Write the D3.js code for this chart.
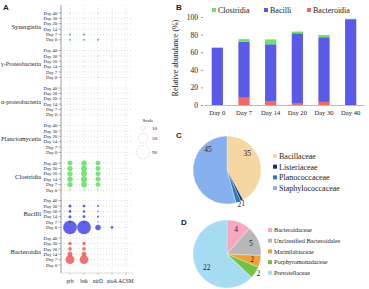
<!DOCTYPE html>
<html>
<head>
<meta charset="utf-8">
<script src="https://cdn.jsdelivr.net/npm/d3@7"></script>
<style>
  body { margin: 0; background: #fff; }
  svg text { font-family: "Liberation Serif", "Times New Roman", serif; fill: #222; }
  .panel-label { font-family: "Liberation Sans", Arial, sans-serif; font-weight: bold; font-size: 8px; }
</style>
</head>
<body>
<div id="chart"></div>
<script>
// ---------- data: panel A (bubble matrix) ----------
const classNames = ["Synergistia", "\u03b3-Proteobacteria", "\u03b1-proteobacteria", "Planctomycetia", "Clostridia", "Bacilli", "Bacteroidia"];
const classColors = ["#3fa596", "#d9d25a", "#b5b5b5", "#a8a8c8", "#5fe05f", "#4646ea", "#ef5a5a"];
const dayRows = ["Day 40", "Day 30", "Day 20", "Day 14", "Day 7", "Day 0"];
const genes = ["prb", "bsk", "nirD", "atoA", "ACSM"];

// rows: Day 40 .. Day 0, columns: prb, bsk, nirD, atoA, ACSM
const synergistiaVals = [[0.5, 0, 0.5, 0, 0], [0, 0, 0, 0, 0], [0, 0, 0, 0, 0], [0, 0, 0, 0, 0], [2, 2, 0, 0, 0], [1.5, 1.5, 2, 0, 0]];
const gammaVals = [[0, 0, 0, 0, 0], [0, 0, 1.5, 1.5, 0], [0, 0, 0, 0, 0], [0, 0, 0, 0, 0], [0, 0, 0, 0, 0], [0, 0, 1.5, 1, 0]];
const alphaVals = [[0, 0, 0, 0, 0], [0, 0, 0.5, 0, 0], [0, 0, 0, 0, 0], [0.5, 0, 0, 0, 0], [0, 0, 0, 0, 0], [0, 0, 0, 0, 0]];
const planctoVals = [[0, 0, 0, 0, 0], [0, 0, 0, 0, 0], [0, 0, 0, 0, 0], [0.5, 0, 0, 0, 0], [0, 0, 0, 0, 0], [0, 0, 0, 0, 0]];
const clostridiaVals = [[13, 16, 12, 0, 0], [14, 18, 13, 0, 0], [14, 19, 13, 0, 0], [15, 20, 13, 0, 0], [14, 18, 12, 0, 0], [1, 1, 1, 0, 0]];
const bacilliVals = [[0, 0, 0, 0, 0], [5, 4, 2, 0, 0], [4, 3, 1, 0, 0], [5, 4, 2, 0, 0], [4, 3, 1, 0, 0], [100, 100, 16, 4, 0]];
const bacteroidiaVals = [[0, 0, 0, 0, 0], [6, 6, 0, 0, 0], [7, 7, 0, 0, 0], [13, 13, 0, 0, 0], [42, 40, 0, 0, 0], [0, 0, 0, 0, 0]];
const classVals = [synergistiaVals, gammaVals, alphaVals, planctoVals, clostridiaVals, bacilliVals, bacteroidiaVals];
const scaleLegend = [10, 50, 90];

// ---------- data: panel B (stacked bars) ----------
const bDays = ["Day 0", "Day 7", "Day 14", "Day 20", "Day 30", "Day 40"];
const bSeries = ["Clostridia", "Bacilli", "Bacteroidia"];
const bColors = ["#6be36b", "#5a5ae8", "#f06868"];
const clostridiaAb = [0.5, 3, 5.5, 2, 2.5, 0.5];
const bacilliAb = [65, 63.5, 64.5, 80, 73.5, 97.5];
const bacteroidiaAb = [0, 8.3, 4.5, 1.5, 3.5, 0];
const bTicks = [0, 20, 40, 60, 80, 100];

// ---------- data: panels C, D (pies) ----------
const cNames = ["Bacillaceae", "Listeriaceae", "Planococcaceae", "Staphylococcaceae"];
const cValues = [35, 1, 2, 45];
const cColors = ["#f6d7a2", "#1b2f5c", "#2a7bbd", "#86b0ee"];
const dNames = ["Bacteroidaceae", "Unclassified Bacteroidales", "Marinilabiaceae", "Porphyromonadaceae", "Prevotellaceae"];
const dValues = [4, 5, 2, 2, 22];
const dColors = ["#f6a9c0", "#b8b8b8", "#f0a23a", "#72c244", "#a6dcf2"];

const W = 369, H = 289;
const svg = d3.select("#chart").append("svg")
    .attr("width", W)
    .attr("height", H);

// ================= Panel A =================
svg.append("text").attr("class", "panel-label").attr("x", 3).attr("y", 10).text("A");

const slotsPerGroup = 7;
let rowIndex = (g, k) => g * slotsPerGroup + k;
const yA = d3.scaleLinear().domain([0, 47]).range([13, 265]);
const xA = d3.scalePoint().domain(genes).range([70, 126]);
const rA = d3.scaleSqrt().domain([0, 90]).range([0, 6.5]);
const aLeft = 61, aRight = 133, aTop = 5, aBottom = 273;

let gridA = svg.append("g").attr("class", "grid-a");
// horizontal dotted lines at each row
classNames.forEach((c, g) => {
    dayRows.forEach((d, k) => {
        gridA.append("line")
            .attr("x1", aLeft).attr("x2", aRight)
            .attr("y1", yA(rowIndex(g, k))).attr("y2", yA(rowIndex(g, k)))
            .attr("stroke", "#bdbdbd").attr("stroke-width", 0.5)
            .attr("stroke-dasharray", "1,2");
    });
});
// vertical dotted lines
genes.forEach(gn => {
    gridA.append("line")
        .attr("x1", xA(gn)).attr("x2", xA(gn))
        .attr("y1", aTop).attr("y2", aBottom)
        .attr("stroke", "#bdbdbd").attr("stroke-width", 0.5)
        .attr("stroke-dasharray", "1,2");
});

// left axis line + ticks
svg.append("line")
    .attr("x1", aLeft).attr("x2", aLeft).attr("y1", aTop).attr("y2", aBottom)
    .attr("stroke", "#777").attr("stroke-width", 0.7);
svg.append("line")
    .attr("x1", aLeft).attr("x2", aRight).attr("y1", aBottom).attr("y2", aBottom)
    .attr("stroke", "#bbb").attr("stroke-width", 0.5);

let axisA = svg.append("g");
classNames.forEach((c, g) => {
    dayRows.forEach((d, k) => {
        let y = yA(rowIndex(g, k));
        axisA.append("line")
            .attr("x1", aLeft - 3).attr("x2", aLeft).attr("y1", y).attr("y2", y)
            .attr("stroke", "#777").attr("stroke-width", 0.5);
        axisA.append("text")
            .attr("x", aLeft - 4).attr("y", y)
            .attr("dy", "0.35em")
            .attr("text-anchor", "end")
            .style("font-size", "4.6px")
            .text(d);
    });
    let t = axisA.append("text")
        .attr("x", 41)
        .attr("y", yA(rowIndex(g, 2.5)))
        .attr("dy", "0.35em")
        .attr("text-anchor", "end")
        .style("font-size", "6.6px")
        .text(c);
    // keep long class names inside the left edge
    if (t.node().getComputedTextLength() > 40) {
        t.attr("textLength", 40).attr("lengthAdjust", "spacingAndGlyphs");
    }
});

genes.forEach(gn => {
    axisA.append("line")
        .attr("x1", xA(gn)).attr("x2", xA(gn)).attr("y1", aBottom).attr("y2", aBottom + 2)
        .attr("stroke", "#999").attr("stroke-width", 0.5);
    axisA.append("text")
        .attr("x", xA(gn)).attr("y", 283)
        .attr("text-anchor", "middle")
        .style("font-size", "5.4px")
        .text(gn);
});

// bubbles
let bubbleData = [];
classVals.forEach((mat, g) => {
    mat.forEach((row, k) => {
        row.forEach((v, j) => {
            if (v > 0) bubbleData.push({ g: g, k: k, gene: genes[j], value: v });
        });
    });
});
svg.append("g").selectAll("circle.bubble")
    .data(bubbleData)
    .enter()
    .append("circle")
    .attr("class", "bubble")
    .attr("cx", d => xA(d.gene))
    .attr("cy", d => yA(rowIndex(d.g, d.k)))
    .attr("r", d => rA(d.value))
    .style("fill", d => classColors[d.g])
    .style("fill-opacity", 0.85);

// scale legend
let sLeg = svg.append("g");
sLeg.append("text").attr("x", 148).attr("y", 122).attr("text-anchor", "middle")
    .style("font-size", "5px").text("Scale");
const sLegY = [128, 138, 152];
scaleLegend.forEach((v, i) => {
    sLeg.append("circle")
        .attr("cx", 143).attr("cy", sLegY[i]).attr("r", rA(v))
        .attr("fill", "none").attr("stroke", "#aaa").attr("stroke-width", 0.5)
        .attr("stroke-dasharray", "1,1");
    sLeg.append("text").attr("x", 152).attr("y", sLegY[i]).attr("dy", "0.35em")
        .style("font-size", "5px").text(v);
});

// ================= Panel B =================
svg.append("text").attr("class", "panel-label").attr("x", 176).attr("y", 10).text("B");

const xB = d3.scaleBand().domain(bDays).range([204, 364]).paddingInner(0.58).paddingOuter(0.29);
const yB = d3.scaleLinear().domain([0, 100]).range([105, 17]);

let stackRows = bDays.map((d, i) => ({
    day: d,
    Bacteroidia: bacteroidiaAb[i],
    Bacilli: bacilliAb[i],
    Clostridia: clostridiaAb[i]
}));
let stack = d3.stack().keys(["Bacteroidia", "Bacilli", "Clostridia"]);
let layers = stack(stackRows);

svg.append("g").selectAll("g.layer")
    .data(layers)
    .enter()
    .append("g")
    .attr("class", "layer")
    .style("fill", d => bColors[bSeries.indexOf(d.key)])
    .selectAll("rect")
    .data(d => d)
    .enter()
    .append("rect")
    .attr("x", d => xB(d.data.day))
    .attr("width", xB.bandwidth())
    .attr("y", d => yB(d[1]))
    .attr("height", d => yB(d[0]) - yB(d[1]));

let yAxisB = svg.append("g")
    .attr("transform", "translate(203,0)")
    .call(d3.axisLeft(yB).tickValues(bTicks).tickSize(2).tickPadding(3));
yAxisB.select(".domain").remove();
yAxisB.selectAll("line").attr("stroke", "#999");
yAxisB.selectAll("text").style("font-size", "7.5px").style("font-family", "Liberation Serif, serif").attr("fill", "#222");

let xAxisB = svg.append("g")
    .attr("transform", "translate(0,105)")
    .call(d3.axisBottom(xB).tickSize(0).tickPadding(5));
xAxisB.select(".domain").attr("stroke", "#bbb");
xAxisB.selectAll("text").style("font-size", "6.6px").style("font-family", "Liberation Serif, serif").attr("fill", "#222");

svg.append("text")
    .attr("transform", "translate(178,58) rotate(-90)")
    .attr("text-anchor", "middle")
    .style("font-size", "8px")
    .text("Relative abundance (%)");

// legend B
const bLegX = [212, 264, 307];
bSeries.forEach((s, i) => {
    svg.append("rect").attr("x", bLegX[i]).attr("y", 8).attr("width", 4).attr("height", 4).style("fill", bColors[i]);
    svg.append("text").attr("x", bLegX[i] + 6).attr("y", 10).attr("dy", "0.35em")
        .style("font-size", "8px").text(s);
});

// ================= Pies =================
function drawPie(cx, cy, r, names, values, colors, legX, legY, legStep, legFont, labelSpec) {
    let pie = d3.pie().sort(null);
    let arc = d3.arc().innerRadius(0).outerRadius(r);
    let arcs = pie(values);
    let g = svg.append("g").attr("transform", `translate(${cx},${cy})`);
    g.selectAll("path")
        .data(arcs)
        .enter()
        .append("path")
        .attr("d", arc)
        .style("fill", (d, i) => colors[i])
        .attr("stroke", "#fff")
        .attr("stroke-width", 0.3);
    g.selectAll("text")
        .data(arcs)
        .enter()
        .append("text")
        .attr("transform", (d, i) => {
            let s = labelSpec[i];
            let a = d.startAngle + (d.endAngle - d.startAngle) * s.frac;
            let rr = r * s.rad;
            return `translate(${Math.sin(a) * rr},${-Math.cos(a) * rr})`;
        })
        .attr("text-anchor", "middle")
        .attr("dy", "0.35em")
        .style("font-size", "7.5px")
        .text(d => d.data);
    names.forEach((n, i) => {
        svg.append("rect").attr("x", legX).attr("y", legY + i * legStep - 2)
            .attr("width", 4).attr("height", 4).style("fill", colors[i]);
        svg.append("text").attr("x", legX + 6).attr("y", legY + i * legStep).attr("dy", "0.35em")
            .style("font-size", legFont).text(n);
    });
}

svg.append("text").attr("class", "panel-label").attr("x", 176).attr("y", 138).text("C");
drawPie(227, 170, 34, cNames, cValues, cColors, 273, 156, 10.7, "8px",
    [{ frac: 0.33, rad: 0.78 }, { frac: 0.5, rad: 1.08 }, { frac: 0.5, rad: 1.08 }, { frac: 0.78, rad: 0.82 }]);

svg.append("text").attr("class", "panel-label").attr("x", 181).attr("y", 225).text("D");
drawPie(227, 254, 34, dNames, dValues, dColors, 268, 230, 10.7, "6.2px",
    [{ frac: 0.5, rad: 0.76 }, { frac: 0.5, rad: 0.76 }, { frac: 0.5, rad: 0.76 }, { frac: 0.4, rad: 1.08 }, { frac: 0.45, rad: 0.72 }]);
</script>
</body>
</html>
